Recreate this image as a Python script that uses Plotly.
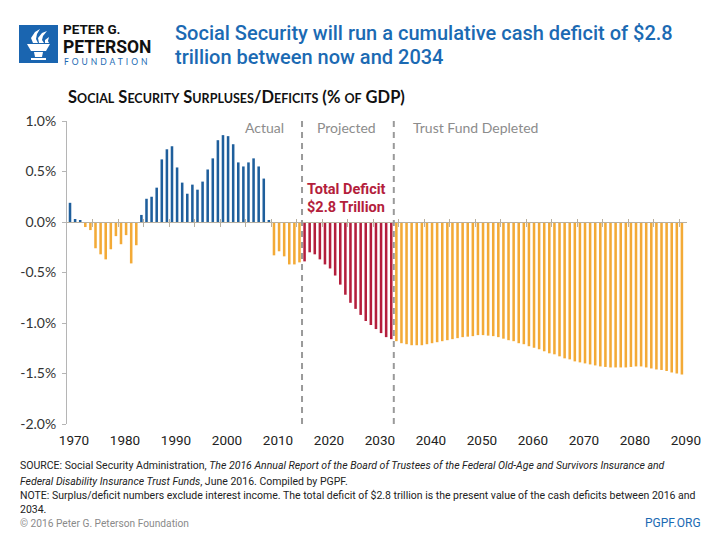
import plotly.graph_objects as go

# ---------------- data ----------------
years = list(range(1970, 2091))
values = [
    # 1970-1979
    0.19, 0.03, 0.01, -0.05, -0.08, -0.26, -0.32, -0.37, -0.27, -0.14,
    # 1980-1989
    -0.22, -0.13, -0.41, -0.23, 0.07, 0.23, 0.25, 0.34, 0.62, 0.72,
    # 1990-1999
    0.75, 0.54, 0.39, 0.28, 0.37, 0.32, 0.40, 0.52, 0.63, 0.81,
    # 2000-2009
    0.86, 0.85, 0.77, 0.59, 0.55, 0.59, 0.63, 0.55, 0.43, 0.02,
    # 2010-2019
    -0.33, -0.29, -0.34, -0.42, -0.42, -0.40, -0.39, -0.30, -0.32, -0.37,
    # 2020-2029
    -0.42, -0.46, -0.53, -0.62, -0.72, -0.80, -0.86, -0.92, -0.98, -1.02,
    # 2030-2039
    -1.06, -1.10, -1.14, -1.16, -1.18, -1.20, -1.21, -1.22, -1.22, -1.22,
    # 2040-2049
    -1.21, -1.20, -1.19, -1.18, -1.17, -1.16, -1.15, -1.14, -1.135, -1.13,
    # 2050-2059
    -1.12, -1.12, -1.125, -1.13, -1.14, -1.155, -1.17, -1.18, -1.20, -1.21,
    # 2060-2069
    -1.23, -1.245, -1.26, -1.28, -1.30, -1.31, -1.33, -1.35, -1.36, -1.38,
    # 2070-2079
    -1.39, -1.40, -1.41, -1.42, -1.43, -1.435, -1.44, -1.44, -1.44, -1.44,
    # 2080-2090
    -1.435, -1.43, -1.43, -1.44, -1.45, -1.46, -1.465, -1.475, -1.49, -1.50, -1.51,
]
projection_start = 2016
trust_fund_depleted = 2034

y_tickvals = [1.0, 0.5, 0.0, -0.5, -1.0, -1.5, -2.0]
y_ticktext = ["1.0%", "0.5%", "0.0%", "-0.5%", "-1.0%", "-1.5%", "-2.0%"]
x_tickvals = list(range(1970, 2091, 10))
x_ticktext = [str(v) for v in x_tickvals]
minor_ticks = [v + 4.5 for v in range(1970, 2090, 5)]

# ---------------- colours ----------------
BLUE = "#1f5f9c"
ORANGE = "#f3aa37"
RED = "#b41e3c"
TITLE_BLUE = "#1b6ab3"
GRAY = "#8c8c8c"

colors = []
for yr, v in zip(years, values):
    if v > 0:
        colors.append(BLUE)
    elif projection_start <= yr < trust_fund_depleted:
        colors.append(RED)
    else:
        colors.append(ORANGE)

# ---------------- layout helpers ----------------
# The page body has an 8px default margin, so the figure is drawn 8px in
# from the top-left; all reference pixel positions are shifted by OFF.
OFF = 8
WIDTH, HEIGHT = 704, 524
PLOT_L, PLOT_R, PLOT_T, PLOT_B = 67, 687, 121, 424   # reference-pixel plot box
L = PLOT_L - OFF
T = PLOT_T - OFF
R = WIDTH - (PLOT_R - OFF)
B = HEIGHT - (PLOT_B - OFF)
PW, PH = WIDTH - L - R, HEIGHT - T - B


def px(x):
    return (x - PLOT_L) / PW


def py(y):
    return 1 - (y - PLOT_T) / PH


MAIN = "Roboto, sans-serif"
BODY = "Lato, Open Sans, sans-serif"

fig = go.Figure()
fig.add_trace(go.Bar(x=years, y=values, width=0.5,
                     marker=dict(color=colors, line=dict(width=0)),
                     hoverinfo="x+y", showlegend=False))

annotations = []


def text(x, y, s, size, color, font=MAIN, xanchor="left", weight=None):
    f = dict(size=size, color=color, family=font)
    if weight:
        f["weight"] = weight
    annotations.append(dict(x=px(x), y=py(y), xref="paper", yref="paper",
                            text=s, showarrow=False, xanchor=xanchor, align="left",
                            yanchor="middle", borderpad=0, font=f))


# titles
text(174, 33, "Social Security will run a cumulative cash deficit of $2.8", 20, TITLE_BLUE, weight=500)
text(174, 57, "trillion between now and 2034", 20, TITLE_BLUE, weight=500)
sc = "<span style='font-size:12.5px'>"
sub = ("<b>S" + sc + "OCIAL</span> S" + sc + "ECURITY</span> S" + sc + "URPLUSES</span>/D"
       + sc + "EFICITS</span> (% " + sc + "OF</span> GDP)</b>")
text(67, 97, sub, 16.5, "#111111", font=BODY)

# logo text
text(62, 28.5, "<b>PETER G.</b>", 13.5, "#111111")
text(62, 46.5, "<b>PETERSON</b>", 17.5, "#111111")
text(63, 61.5, "<span style='letter-spacing:3px'>FOUNDATION</span>", 8.5, TITLE_BLUE, font=BODY)

# region labels
text(285, 128, "Actual", 14, GRAY, font=BODY, xanchor="right")
text(346, 128, "Projected", 14, GRAY, font=BODY, xanchor="center")
text(412, 128, "Trust Fund Depleted", 14, GRAY, font=BODY)
text(346, 189, "<b>Total Deficit</b>", 14.5, RED, xanchor="center")
text(346, 207, "<b>$2.8 Trillion</b>", 14.5, RED, xanchor="center")

# footer
FOOT = 10.5
text(19, 466, "SOURCE: Social Security Administration, <i>The 2016 Annual Report of the Board of Trustees of the Federal Old-Age and Survivors Insurance and</i>", FOOT, "#222222")
text(19, 481, "<i>Federal Disability Insurance Trust Funds</i>, June 2016. Compiled by PGPF.", FOOT, "#222222")
text(19, 495, "NOTE: Surplus/deficit numbers exclude interest income. The total deficit of $2.8 trillion is the present value of the cash deficits between 2016 and", FOOT, "#222222")
text(19, 509, "2034.", FOOT, "#222222")
text(19, 523, "© 2016 Peter G. Peterson Foundation", 10.2, "#8a8a8a")
text(702, 523, "PGPF.ORG", 12, TITLE_BLUE, xanchor="right")

shapes = []
# dashed separators
for yr in (projection_start, trust_fund_depleted):
    shapes.append(dict(type="line", xref="x", yref="paper", x0=yr - 0.5, x1=yr - 0.5,
                       y0=0, y1=py(118), line=dict(color="#9a9a9a", width=2, dash="6px,5px")))

# logo square
shapes.append(dict(type="rect", xref="paper", yref="paper", x0=px(19), x1=px(58),
                   y0=py(63), y1=py(25), fillcolor="#1a65b0", line=dict(width=0), layer="above"))


def path(points):
    return "M " + " L ".join(f"{px(a):.5f},{py(b):.5f}" for a, b in points) + " Z"


torch = [
    [(27, 44), (50, 44), (46, 51), (31, 51)],
    [(34, 52), (43, 52), (42, 57), (35, 57)],
    [(31, 58), (46, 58), (46, 60), (31, 60)],
]
flames = [
    [(33, 43), (31, 38), (35, 32), (40, 29), (37, 34), (36, 39), (38, 43)],
    [(39, 43), (38, 38), (42, 33), (47, 31), (43, 36), (42, 40), (44, 43)],
    [(45, 43), (45, 40), (49, 37), (48, 41), (49, 43)],
]
for pts in torch + flames:
    shapes.append(dict(type="path", xref="paper", yref="paper", path=path(pts),
                       fillcolor="white", line=dict(width=0), layer="above"))

fig.update_layout(
    width=WIDTH, height=HEIGHT,
    margin=dict(l=L, r=R, t=T, b=B, autoexpand=False),
    paper_bgcolor="white", plot_bgcolor="white",
    bargap=0.5,
    annotations=annotations,
    shapes=shapes,
    xaxis=dict(range=[1969.41, 2091.0], tickvals=x_tickvals, ticktext=x_ticktext,
               showgrid=False, zeroline=False, showline=False, ticks="",
               ticklabelshift=4, ticklabelstandoff=6,
               tickfont=dict(size=13.5, color="#222222", family=MAIN)),
    xaxis2=dict(overlaying="x", matches="x", anchor="free", position=2 / 3, side="bottom",
                showline=True, linecolor="#b8b0a0", linewidth=1,
                tickvals=minor_ticks, ticks="outside", ticklen=4, tickcolor="#b8b0a0",
                showticklabels=False, showgrid=False, zeroline=False),
    xaxis3=dict(overlaying="x", matches="x", anchor="free", position=2 / 3, side="bottom",
                showline=False, tickvals=minor_ticks, ticks="inside", ticklen=3,
                tickcolor="#b8b0a0", showticklabels=False, showgrid=False, zeroline=False),
    yaxis=dict(range=[-2.0, 1.0], tickvals=y_tickvals, ticktext=y_ticktext,
               showgrid=False, zeroline=False, showline=True, linecolor="#b5b5b5",
               ticks="outside", ticklen=4, tickcolor="#b5b5b5", ticklabelstandoff=3,
               tickfont=dict(size=14, color="#333333", family=BODY)),
)
fig.add_trace(go.Scatter(x=[years[0]], y=[0], xaxis="x2", mode="markers",
                         marker=dict(opacity=0), hoverinfo="skip", showlegend=False))
fig.add_trace(go.Scatter(x=[years[0]], y=[0], xaxis="x3", mode="markers",
                         marker=dict(opacity=0), hoverinfo="skip", showlegend=False))

fig.write_html("out.html")
